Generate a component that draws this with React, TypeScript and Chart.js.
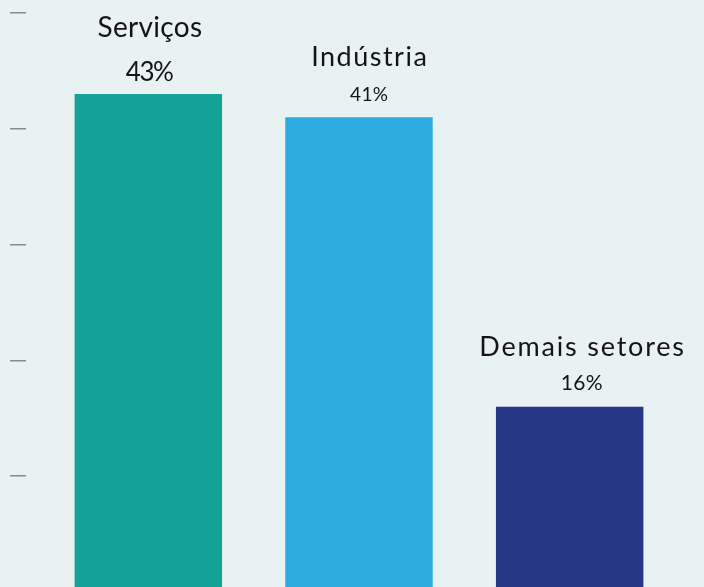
import React, { useEffect, useRef } from 'react';
import { Chart, registerables } from 'chart.js';

Chart.register(...registerables);

const categories = ['Serviços', 'Indústria', 'Demais setores'];
const values = [43, 41, 16];
const valueLabels = ['43%', '41%', '16%'];
const yMin = 0;
const yMax = 50;
const yStep = 10;

// styling (not data)
const barColors = ['#11a298', '#2fabdf', '#263788'];
const nameFontSizes = [28, 27, 27];
const nameSpacing = [0.3, 1.5, 1.8];
const pctFontSizes = [26, 19, 21];
const pctSpacing = [-1.5, 0.3, 0.3];
const pctGaps = [13, 16, 17];
const lineGaps = [44, 35, 34];
const labelShifts = [1.5, 10, 12];
const labelFont = 'Lato, sans-serif';

const labelPlugin = {
  id: 'barTopLabels',
  afterDatasetsDraw(chart: any) {
    const ctx = chart.ctx;
    const meta = chart.getDatasetMeta(0);
    ctx.save();
    ctx.fillStyle = '#141414';
    ctx.textAlign = 'center';
    ctx.textBaseline = 'alphabetic';
    meta.data.forEach((bar: any, i: number) => {
      const x = bar.x + labelShifts[i];
      const pctY = bar.y - pctGaps[i];
      ctx.font = `400 ${pctFontSizes[i]}px ${labelFont}`;
      (ctx as any).letterSpacing = `${pctSpacing[i]}px`;
      ctx.fillText(valueLabels[i], x + pctSpacing[i] / 2, pctY);
      ctx.font = `400 ${nameFontSizes[i]}px ${labelFont}`;
      (ctx as any).letterSpacing = `${nameSpacing[i]}px`;
      ctx.fillText(categories[i], x + nameSpacing[i] / 2, pctY - lineGaps[i]);
    });
    (ctx as any).letterSpacing = '0px';
    ctx.restore();
  },
};

export default function App() {
  const ref = useRef<HTMLCanvasElement | null>(null);

  useEffect(() => {
    if (!ref.current) return;
    const chart = new Chart(ref.current, {
      type: 'bar',
      data: {
        labels: categories,
        datasets: [
          {
            data: values,
            backgroundColor: barColors,
            borderWidth: 0,
            barPercentage: 0.7,
            categoryPercentage: 1,
          },
        ],
      },
      options: {
        animation: false,
        responsive: true,
        maintainAspectRatio: false,
        layout: { padding: { left: 10, right: 29, top: 13, bottom: 8 } },
        plugins: {
          legend: { display: false },
          tooltip: { enabled: false },
        },
        scales: {
          x: { display: false },
          y: {
            min: yMin,
            max: yMax,
            weight: 1,
            ticks: { display: false, stepSize: yStep },
            grid: {
              drawOnChartArea: false,
              drawTicks: true,
              tickLength: 16,
              color: '#858d8d',
              lineWidth: 1.5,
            },
            border: { display: false },
            afterFit: (s: any) => {
              s.width = 16;
            },
          },
          y2: {
            position: 'left',
            weight: 0,
            display: true,
            ticks: { display: false },
            grid: { display: false },
            border: { display: false },
            afterFit: (s: any) => {
              s.width = 17;
            },
          },
        },
      },
      plugins: [labelPlugin],
    } as any);
    return () => chart.destroy();
  }, []);

  return (
    <div
      style={{
        position: 'fixed',
        left: 0,
        top: 0,
        width: 704,
        height: 587,
        overflow: 'hidden',
        background: '#e9f2f3',
      }}
    >
      <div style={{ position: 'relative', width: 704, height: 600 }}>
        <canvas ref={ref} style={{ display: 'block' }} />
      </div>
    </div>
  );
}
